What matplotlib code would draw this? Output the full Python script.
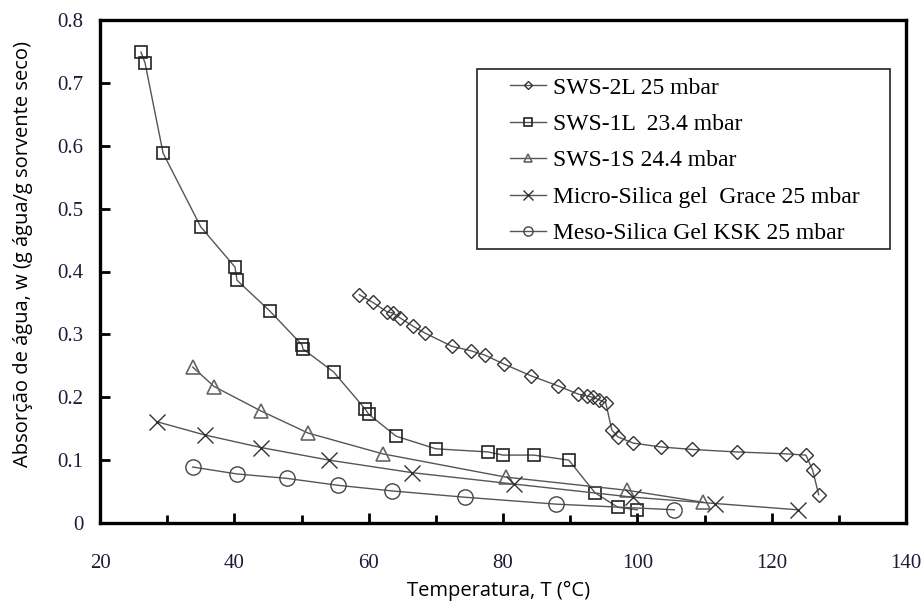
import matplotlib
matplotlib.use("Agg")
from matplotlib import pyplot as plt
from matplotlib.patches import Rectangle
from matplotlib.ticker import MultipleLocator

# SWS-2L 25 mbar
t_2l = [58.6, 60.6, 62.7, 63.6, 64.7, 66.6, 68.4, 72.4, 75.2, 77.3, 80.1, 84.2, 88.2,
        91.2, 92.5, 93.4, 94.3, 95.3, 96.2, 97.1, 99.4, 103.5, 108.1, 114.8, 122.1,
        125.1, 126.1, 127.0]
w_2l = [0.363, 0.351, 0.336, 0.334, 0.326, 0.313, 0.302, 0.281, 0.274, 0.267, 0.253,
        0.234, 0.218, 0.205, 0.202, 0.200, 0.196, 0.191, 0.148, 0.137, 0.127, 0.121,
        0.117, 0.113, 0.110, 0.108, 0.084, 0.045]

# SWS-1L 23.4 mbar
t_1l = [26.1, 26.7, 29.4, 35.0, 40.1, 40.4, 45.3, 50.1, 50.2, 54.8, 59.5, 60.0, 64.1,
        70.0, 77.8, 80.0, 84.6, 89.8, 93.7, 97.1, 100.0]
w_1l = [0.749, 0.732, 0.588, 0.471, 0.407, 0.386, 0.337, 0.283, 0.277, 0.240, 0.181,
        0.173, 0.138, 0.118, 0.113, 0.108, 0.108, 0.100, 0.048, 0.025, 0.021]

# SWS-1S 24.4 mbar
t_1s = [33.8, 37.0, 44.0, 51.0, 62.1, 80.4, 98.5, 109.8]
w_1s = [0.248, 0.217, 0.178, 0.143, 0.110, 0.073, 0.052, 0.033]

# Micro-Silica gel Grace 25 mbar
t_micro = [28.5, 35.6, 44.0, 54.1, 66.5, 81.6, 99.4, 111.6, 123.9]
w_micro = [0.161, 0.140, 0.120, 0.100, 0.080, 0.062, 0.041, 0.031, 0.021]

# Meso-Silica Gel KSK 25 mbar
t_meso = [33.8, 40.4, 47.8, 55.4, 63.5, 74.3, 87.9, 105.5]
w_meso = [0.089, 0.078, 0.071, 0.060, 0.051, 0.041, 0.030, 0.021]

fig = plt.figure(figsize=(9.24, 6.04), dpi=100)
ax = fig.add_axes([100 / 924, 81 / 604, 806 / 924, 503 / 604])

line_kw = dict(color="#555555", lw=1.0, markerfacecolor="none")
ax.plot(t_2l, w_2l, marker="D", ms=7.5, mew=1.0, mec="#333333",
        label="SWS-2L 25 mbar", **line_kw)
ax.plot(t_1l, w_1l, marker="s", ms=9, mew=1.2, mec="#222222",
        label="SWS-1L  23.4 mbar", **line_kw)
ax.plot(t_1s, w_1s, marker="^", ms=10.5, mew=1.2, mec="#666666",
        label="SWS-1S 24.4 mbar", **line_kw)
ax.plot(t_micro, w_micro, marker="x", ms=11, mew=1.0, mec="#333333",
        label="Micro-Silica gel  Grace 25 mbar", **line_kw)
ax.plot(t_meso, w_meso, marker="o", ms=11, mew=1.0, mec="#444444",
        label="Meso-Silica Gel KSK 25 mbar", **line_kw)

ax.set_xlim(20, 140)
ax.set_ylim(0, 0.8)
ax.xaxis.set_major_locator(MultipleLocator(20))
ax.xaxis.set_minor_locator(MultipleLocator(10))
ax.yaxis.set_major_locator(MultipleLocator(0.1))
ax.yaxis.set_major_formatter(plt.FuncFormatter(lambda v, p: "0" if abs(v) < 1e-9 else f"{v:.1f}"))

for s in ax.spines.values():
    s.set_linewidth(2.4)
ax.tick_params(which="both", direction="in", width=2, top=False, right=False,
               labelsize=15, labelcolor="#1c1c3a")
ax.tick_params(which="major", length=7, pad=12)
ax.tick_params(axis="x", which="major", pad=22)
ax.tick_params(which="minor", length=6)
for lab in ax.get_xticklabels() + ax.get_yticklabels():
    lab.set_family("Liberation Serif")

ax.set_xlabel("Temperatura, T (\u00b0C)", fontsize=14.5, family="Open Sans")
ax.set_ylabel("Absorção de água, w (g água/g sorvente seco)", fontsize=14.5,
              family="Open Sans")
ax.xaxis.set_label_coords(0.494, -0.115)
ax.yaxis.set_label_coords(-0.083, 0.535)

# legend frame drawn separately to match the wide box of the original
fig.patches.append(Rectangle((477 / 924, 1 - 249 / 604), 413 / 924, 180 / 604,
                             transform=fig.transFigure, fill=False,
                             edgecolor="#222222", lw=1.2, zorder=5))
leg = ax.legend(loc="upper left", bbox_to_anchor=(503 / 924, 1 - 70 / 604),
                bbox_transform=fig.transFigure, frameon=False,
                prop={"family": "Liberation Serif", "size": 17},
                markerscale=0.6, handlelength=1.5, handletextpad=0.3,
                labelspacing=0.63, borderpad=0.3, borderaxespad=0)

fig.savefig("out.png", dpi=100)
